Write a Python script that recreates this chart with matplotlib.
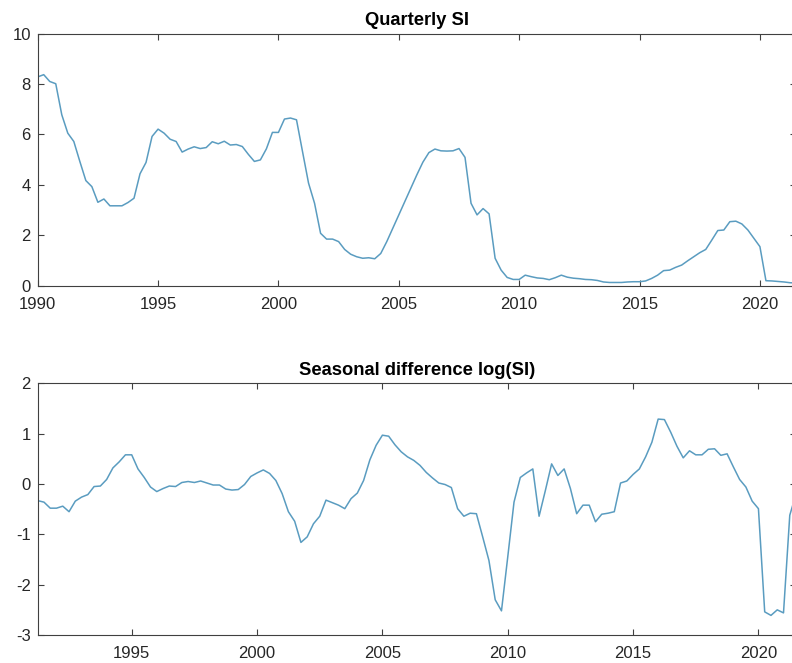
import numpy as np
import matplotlib
matplotlib.use("Agg")
import matplotlib.pyplot as plt

plt.rcParams["font.family"] = ["Liberation Sans", "DejaVu Sans"]
plt.rcParams["axes.unicode_minus"] = False

# quarterly SI, 1990Q1 .. 2021Q3
si_start = 1990.0
si = [8.28, 8.37, 8.10, 8.01, 6.78, 6.05, 5.72, 4.93, 4.17, 3.93, 3.31, 3.44,
      3.17, 3.17, 3.17, 3.30, 3.47, 4.44, 4.89, 5.92, 6.21, 6.05, 5.81, 5.72,
      5.30, 5.42, 5.51, 5.44, 5.48, 5.71, 5.63, 5.73, 5.58, 5.60, 5.52, 5.21,
      4.93, 4.99, 5.43, 6.08, 6.08, 6.61, 6.65, 6.58, 5.32, 4.07, 3.27, 2.08,
      1.85, 1.85, 1.75, 1.44, 1.25, 1.15, 1.09, 1.11, 1.07, 1.28, 1.75, 2.28,
      2.81, 3.34, 3.87, 4.40, 4.90, 5.28, 5.42, 5.35, 5.34, 5.35, 5.44, 5.09,
      3.27, 2.81, 3.06, 2.85, 1.09, 0.62, 0.33, 0.25, 0.25, 0.42, 0.36, 0.31,
      0.29, 0.24, 0.32, 0.42, 0.34, 0.30, 0.28, 0.25, 0.24, 0.21, 0.15, 0.13,
      0.13, 0.13, 0.15, 0.16, 0.16, 0.19, 0.29, 0.42, 0.60, 0.62, 0.73, 0.82,
      0.99, 1.15, 1.31, 1.44, 1.81, 2.19, 2.21, 2.54, 2.56, 2.45, 2.21, 1.88,
      1.55, 0.20, 0.19, 0.17, 0.15, 0.12, 0.11]

# seasonal difference of log(SI), 1991Q2 .. 2021Q3
dlog_start = 1991.25
dlog = [-0.33, -0.36, -0.48, -0.48, -0.44, -0.55, -0.34, -0.26, -0.21, -0.05,
        -0.04, 0.09, 0.32, 0.44, 0.58, 0.58, 0.30, 0.13, -0.06, -0.15,
        -0.09, -0.04, -0.05, 0.03, 0.05, 0.03, 0.06, 0.02, -0.02, -0.02,
        -0.10, -0.12, -0.11, -0.01, 0.15, 0.22, 0.28, 0.21, 0.07, -0.19,
        -0.55, -0.74, -1.16, -1.05, -0.79, -0.64, -0.32, -0.37, -0.42, -0.49,
        -0.29, -0.18, 0.07, 0.48, 0.77, 0.97, 0.95, 0.78, 0.64, 0.54,
        0.47, 0.37, 0.23, 0.12, 0.02, -0.01, -0.07, -0.49, -0.64, -0.58,
        -0.59, -1.05, -1.52, -2.30, -2.52, -1.45, -0.36, 0.13, 0.22, 0.30,
        -0.64, -0.13, 0.40, 0.17, 0.30, -0.09, -0.59, -0.42, -0.42, -0.75,
        -0.60, -0.58, -0.55, 0.02, 0.06, 0.19, 0.30, 0.54, 0.83, 1.29,
        1.28, 1.03, 0.75, 0.52, 0.66, 0.58, 0.58, 0.69, 0.70, 0.57,
        0.60, 0.34, 0.09, -0.06, -0.34, -0.49, -2.54, -2.61, -2.50, -2.56,
        -0.62, -0.20]

t_si = si_start + 0.25 * np.arange(len(si))
t_dlog = dlog_start + 0.25 * np.arange(len(dlog))

line_color = "#5a9cc0"
ink = "#262626"

fig = plt.figure(figsize=(7.92, 6.63), dpi=100)
# right edge sits just past the figure border, so the right spine is cut off
ax1 = fig.add_axes([0.0476, 0.569, 0.9575, 0.3804])
ax2 = fig.add_axes([0.0476, 0.0422, 0.9575, 0.3796])


def style(ax):
    for s in ax.spines.values():
        s.set_color("#404040")
        s.set_linewidth(0.8)
    ax.tick_params(direction="in", length=4.5, width=0.8, color="#404040",
                   labelcolor=ink, labelsize=12, top=True, right=True)
    ax.tick_params(axis="x", pad=8)
    ax.tick_params(axis="y", pad=5)


ax1.plot(t_si, si, color=line_color, lw=1.1)
ax1.set_xlim(t_si[0], t_si[-1])
ax1.set_ylim(0, 10)
ax1.set_xticks(np.arange(1990, 2021, 5))
ax1.set_yticks(np.arange(0, 11, 2))
ax1.set_title("Quarterly SI", fontsize=13.2, fontweight="bold", pad=6)
style(ax1)

ax2.plot(t_dlog, dlog, color=line_color, lw=1.1)
ax2.set_xlim(t_dlog[0], t_dlog[-1])
ax2.set_ylim(-3, 2)
ax2.set_xticks(np.arange(1995, 2021, 5))
ax2.set_yticks(np.arange(-3, 3, 1))
ax2.set_title("Seasonal difference log(SI)", fontsize=13.2,
              fontweight="bold", pad=6)
style(ax2)

fig.savefig("out.png", dpi=100)
